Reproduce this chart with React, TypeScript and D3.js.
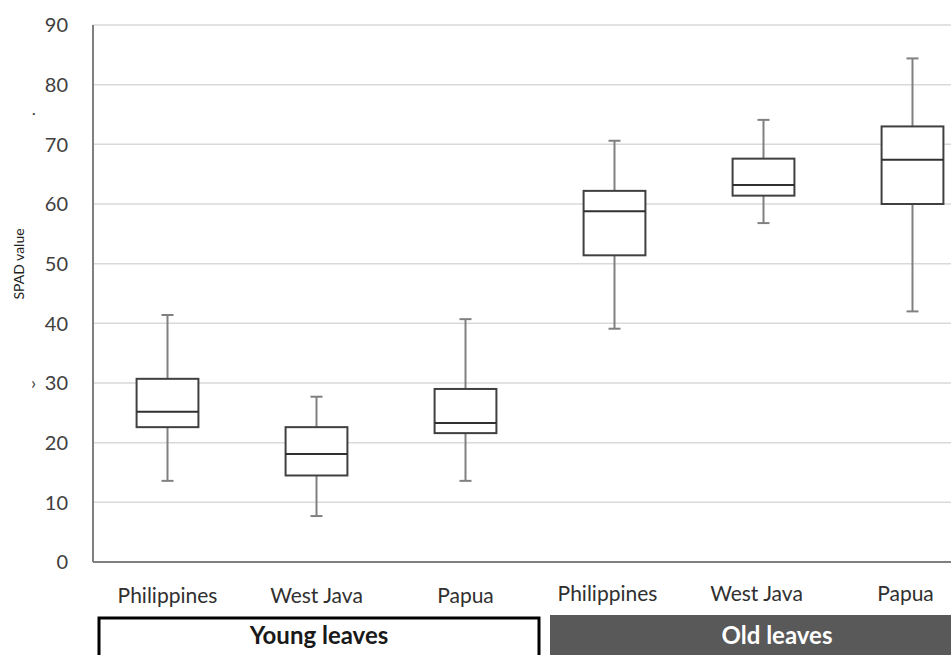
import React from "react";
import * as d3 from "d3";

const categories = ["Philippines", "West Java", "Papua", "Philippines", "West Java", "Papua"];
const groupNames = ["Young leaves", "Old leaves"];
const whiskerLow = [13.6, 7.7, 13.6, 39.1, 56.8, 42.0];
const q1 = [22.6, 14.5, 21.6, 51.4, 61.4, 60.0];
const median = [25.2, 18.1, 23.3, 58.8, 63.2, 67.4];
const q3 = [30.7, 22.6, 29.0, 62.2, 67.6, 73.0];
const whiskerHigh = [41.4, 27.7, 40.7, 70.6, 74.1, 84.4];
const yTicks = [0, 10, 20, 30, 40, 50, 60, 70, 80, 90];

const W = 951;
const H = 655;
const FONT = "Lato, 'Open Sans', sans-serif";

export default function App() {
  const y = d3.scaleLinear().domain([0, 90]).range([562, 25]);
  const x = d3
    .scaleBand<number>()
    .domain(categories.map((_, i) => i))
    .range([93, 987])
    .padding(0);
  const bw = x.bandwidth();
  const boxW = bw * 0.415;
  const capW = 12;
  const cx = (i: number) => (x(i) as number) + bw / 2;
  const labelShift = (i: number) => (i < 3 ? 0 : -7);

  return (
    <svg
      width={W}
      height={H}
      viewBox={`0 0 ${W} ${H}`}
      style={{ position: "absolute", left: 0, top: 0, background: "#fff", display: "block" }}
    >
      <rect x={0} y={0} width={W} height={H} fill="#fff" />
      {/* gridlines */}
      {yTicks
        .filter((t) => t > 0)
        .map((t) => (
          <line key={"g" + t} x1={93} x2={W} y1={y(t)} y2={y(t)} stroke="#d9d9d9" strokeWidth={1.5} />
        ))}
      {/* axes */}
      <line x1={93} x2={93} y1={y(90)} y2={y(0)} stroke="#7f7f7f" strokeWidth={2} />
      <line x1={93} x2={W} y1={y(0)} y2={y(0)} stroke="#7f7f7f" strokeWidth={2} />
      {/* y tick labels */}
      {yTicks.map((t) => (
        <text
          key={"t" + t}
          x={68}
          y={y(t)}
          dy="0.36em"
          textAnchor="end"
          fontFamily={FONT}
          fontSize={20}
          fill="#404040"
        >
          {t}
        </text>
      ))}
      {/* y axis title */}
      <text
        transform={`translate(24,264) rotate(-90)`}
        textAnchor="middle"
        fontFamily={FONT}
        fontSize={14}
        fill="#202020"
      >
        SPAD value
      </text>
      {/* boxes */}
      {categories.map((c, i) => {
        const xc = cx(i);
        return (
          <g key={"b" + i}>
            <line x1={xc} x2={xc} y1={y(whiskerHigh[i])} y2={y(q3[i])} stroke="#808080" strokeWidth={2} />
            <line x1={xc} x2={xc} y1={y(q1[i])} y2={y(whiskerLow[i])} stroke="#808080" strokeWidth={2} />
            <line x1={xc - capW / 2} x2={xc + capW / 2} y1={y(whiskerHigh[i])} y2={y(whiskerHigh[i])} stroke="#808080" strokeWidth={2} />
            <line x1={xc - capW / 2} x2={xc + capW / 2} y1={y(whiskerLow[i])} y2={y(whiskerLow[i])} stroke="#808080" strokeWidth={2} />
            <rect
              x={xc - boxW / 2}
              y={y(q3[i])}
              width={boxW}
              height={y(q1[i]) - y(q3[i])}
              fill="#fff"
              stroke="#404040"
              strokeWidth={2}
            />
            <line x1={xc - boxW / 2} x2={xc + boxW / 2} y1={y(median[i])} y2={y(median[i])} stroke="#303030" strokeWidth={2} />
            <text
              x={xc + labelShift(i)}
              y={i < 3 ? 603 : 601}
              textAnchor="middle"
              fontFamily={FONT}
              fontSize={21}
              fill="#303030"
            >
              {c}
            </text>
          </g>
        );
      })}
      {/* group boxes */}
      <rect x={99} y={618} width={440} height={60} fill="#fff" stroke="#000" strokeWidth={3} />
      <text x={319} y={644} textAnchor="middle" fontFamily={FONT} fontSize={24} fontWeight="bold" fill="#1a1a1a">
        {groupNames[0]}
      </text>
      <rect x={550} y={615} width={460} height={60} fill="#595959" />
      <text x={777} y={644} textAnchor="middle" fontFamily={FONT} fontSize={24} fontWeight="bold" fill="#ffffff">
        {groupNames[1]}
      </text>
      {/* stray marks in the original */}
      <text x={32} y={118} fontFamily={FONT} fontSize={14} fill="#404040">·</text>
      <text x={31} y={389} fontFamily={FONT} fontSize={18} fill="#404040">›</text>
    </svg>
  );
}
